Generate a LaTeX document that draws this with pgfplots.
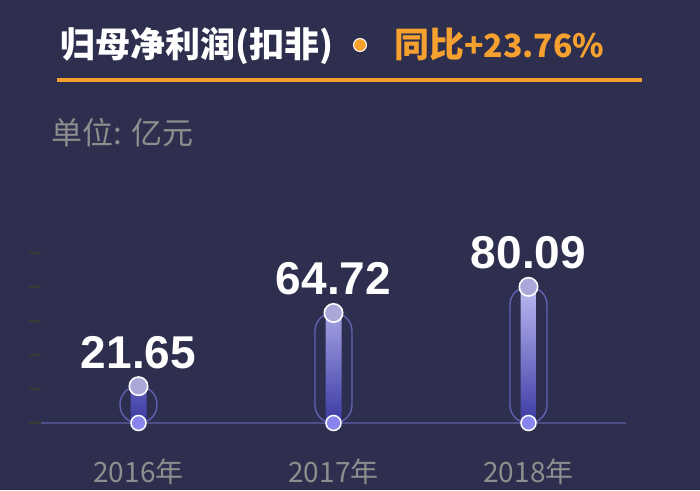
\documentclass[border=0pt]{standalone}
\usepackage{pgfplots}
\pgfplotsset{compat=1.18}
\usepackage{fontspec}
\setmainfont{Liberation Sans}
\newfontfamily\cjk{Noto Sans CJK SC}
\definecolor{bgcol}{HTML}{2E2E4E}
\definecolor{orng}{HTML}{F6A12F}
\definecolor{greyt}{HTML}{8E8E8E}
\definecolor{capcol}{HTML}{6260B4}
\definecolor{bartop}{HTML}{BCBAF2}
\definecolor{barbot}{HTML}{3A3AA4}
\definecolor{topcirc}{HTML}{AAA8D8}
\definecolor{botcirc}{HTML}{8886EE}
\definecolor{basecol}{HTML}{4E4E88}
\definecolor{tickcol}{HTML}{3A3A34}
\begin{document}
\begin{tikzpicture}
\fill[bgcol] (0pt,0pt) rectangle (700pt,490pt);
\useasboundingbox (0pt,0pt) rectangle (700pt,490pt);
% header
\node[anchor=base west, inner sep=0pt, text=white] at (60pt,432pt)
  {\cjk\bfseries\fontsize{35pt}{38pt}\selectfont 归母净利润(扣非)};
\fill[orng, draw=white, line width=1pt] (360pt,445pt) circle (6.5pt);
\node[anchor=base west, inner sep=0pt, text=orng] at (394pt,432pt)
  {\cjk\bfseries\fontsize{35pt}{38pt}\selectfont 同比\fontsize{32pt}{36pt}\selectfont+23.76\%};
\draw[orng, line width=4pt] (57pt,410pt) -- (642pt,410pt);
\node[anchor=base west, inner sep=0pt, text=greyt] at (51pt,345pt)
  {\cjk\fontsize{31pt}{34pt}\selectfont 单位: 亿元};
\begin{axis}[
  at={(41pt,67pt)}, anchor=south west,
  width=585pt, height=170pt, scale only axis,
  xmin=-0.5, xmax=2.5, ymin=0, ymax=100,
  clip=false,
  axis line style={draw=none},
  xtick={0,1,2},
  xticklabels={2016年,2017年,2018年},
  xtick style={draw=none},
  xticklabel style={font=\cjk\fontsize{28pt}{30pt}\selectfont, text=greyt, anchor=base, yshift=-47pt, inner sep=0pt},
  ytick={0,20,40,60,80,100},
  yticklabels={},
  ytick pos=left,
  tick align=outside,
  major tick length=12pt,
  ytick style={color=tickcol, line width=1.3pt},
]
\addplot[basecol, line width=2pt, no marks] coordinates {(-0.5,0) (2.5,0)};
\addplot[ybar, bar width=37pt, bar shift=0pt, draw=capcol, line width=1.4pt, fill=none, rounded corners=18pt]
  coordinates {(0,21.65) (1,64.72) (2,80.09)};
\addplot[ybar, bar width=16pt, bar shift=0pt, draw=none, top color=bartop, bottom color=barbot]
  coordinates {(0,21.65) (1,64.72) (2,80.09)};
\addplot[only marks, mark=*, mark size=7.5pt, mark options={fill=botcirc, draw=white, line width=1.5pt}]
  coordinates {(0,0) (1,0) (2,0)};
\addplot[only marks, mark=*, mark size=9.2pt, mark options={fill=topcirc, draw=white, line width=1.6pt},
  point meta=explicit symbolic, nodes near coords,
  every node near coord/.append style={anchor=base, yshift=18pt, inner sep=0pt, text=white,
    font=\bfseries\fontsize{46pt}{50pt}\selectfont}]
  coordinates {(0,21.65) [21.65] (1,64.72) [64.72] (2,80.09) [80.09]};
\end{axis}
\end{tikzpicture}
\end{document}
